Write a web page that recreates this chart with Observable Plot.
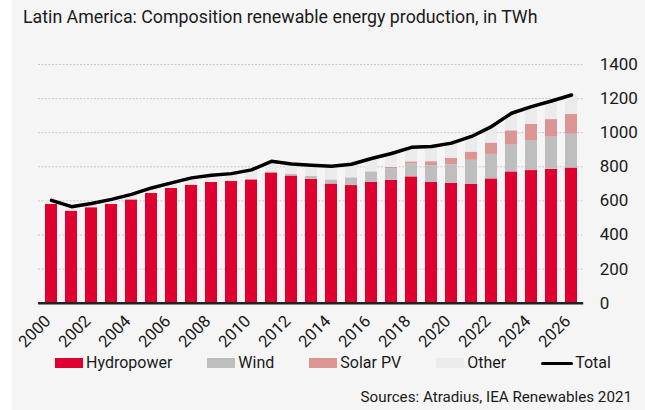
<!DOCTYPE html>
<html>
<head>
<meta charset="utf-8">
<script src="https://cdn.jsdelivr.net/npm/d3@7"></script>
<script src="https://cdn.jsdelivr.net/npm/@observablehq/plot@0.6"></script>
<style>
  html, body { margin: 0; padding: 0; background: #ffffff; }
  #wrap { position: absolute; left: 12px; top: 0; width: 633px; height: 410px; background: #f5f5f5; font-family: Roboto, "Noto Sans", sans-serif; color: #1a1a1a; overflow: hidden; }
  #title { position: absolute; left: 11px; top: 7px; font-size: 17.8px; line-height: 20px; white-space: nowrap; }
  #chart { position: absolute; left: 0; top: 40px; }
  #legend { position: absolute; left: 43px; top: 353px; height: 20px; display: flex; align-items: center; font-size: 16px; line-height: 20px; white-space: nowrap; }
  .item { display: flex; align-items: center; margin-right: 35px; }
  .sw { width: 28px; height: 10px; margin-right: 3px; }
  .ln { width: 32px; height: 3px; background: #000; margin-right: 2px; border-radius: 2px; }
  #source { position: absolute; right: 13px; top: 387px; font-size: 15.2px; line-height: 20px; white-space: nowrap; }
</style>
</head>
<body>
<div id="wrap">
  <div id="title">Latin America: Composition renewable energy production, in TWh</div>
  <div id="chart"></div>
  <div id="legend"></div>
  <div id="source">Sources: Atradius, IEA Renewables 2021</div>
</div>
<script>
const years = [2000,2001,2002,2003,2004,2005,2006,2007,2008,2009,2010,2011,2012,2013,2014,2015,2016,2017,2018,2019,2020,2021,2022,2023,2024,2025,2026];
const hydro = [580,540,560,580,606,644,673,692,708,714,723,764,746,727,699,690,710,720,741,710,704,698,729,770,778,785,793];
const wind  = [0,0,0,0,0,0,1,1,1,2,3,4,10,16,23,43,57,69,75,96,109,140,144,157,173,189,198];
const solar = [0,0,0,0,0,0,0,0,0,0,0,1,1,1,1,2,3,7,13,24,37,48,66,84,97,103,117];
const other = [23,26,25,29,32,32,32,42,41,44,56,63,59,65,80,80,79,82,85,89,89,92,97,103,105,109,113];
const total = [603,566,585,609,638,676,706,735,750,760,782,832,816,809,803,815,849,878,914,919,939,978,1036,1114,1153,1186,1221];
const seriesNames = ["Hydropower","Wind","Solar PV","Other"];
const seriesColors = ["#df0030","#bebebe","#da9594","#ebebeb"];
const yTicks = [0,200,400,600,800,1000,1200,1400];
const xLabelYears = [2000,2002,2004,2006,2008,2010,2012,2014,2016,2018,2020,2022,2024,2026];

const seriesValues = [hydro, wind, solar, other];
const table = [];
seriesNames.forEach((s, k) => years.forEach((yr, i) => table.push({year: yr, series: s, value: seriesValues[k][i]})));
const totals = years.map((yr, i) => ({year: yr, total: total[i]}));

const chart = Plot.plot({
  width: 633,
  height: 315,
  marginTop: 24,
  marginBottom: 52.3,
  marginLeft: 26,
  marginRight: 61.8,
  style: {fontFamily: "Roboto, 'Noto Sans', sans-serif", background: "transparent", color: "#1a1a1a", overflow: "visible"},
  x: {type: "band", domain: years, paddingInner: 0.406, paddingOuter: 0.2, axis: null},
  y: {domain: [0, 1400]},
  color: {domain: seriesNames, range: seriesColors},
  marks: [
    Plot.ruleY(yTicks.filter(d => d > 0), {stroke: "#c8c8c8", strokeWidth: 1, strokeDasharray: "2,1.5"}),
    Plot.barY(table, {x: "year", y: "value", fill: "series", order: seriesNames}),
    Plot.ruleY([0], {stroke: "#222", strokeWidth: 2.5}),
    Plot.line(totals, {x: "year", y: "total", stroke: "#000", strokeWidth: 3.5, curve: "linear"}),
    Plot.axisY({anchor: "right", ticks: yTicks, tickSize: 0, tickPadding: 16, tickFormat: d => String(d), fontSize: 17, label: null}),
    Plot.text(xLabelYears, {x: d => d, text: d => String(d), frameAnchor: "bottom", dy: 19, dx: 0, rotate: -45, textAnchor: "end", lineAnchor: "bottom", fontSize: 16.5, fill: "#1a1a1a"})
  ]
});
document.getElementById("chart").appendChild(chart);

const legend = document.getElementById("legend");
seriesNames.forEach((s, k) => {
  const it = document.createElement("div");
  it.className = "item";
  it.innerHTML = `<div class="sw" style="background:${seriesColors[k]}"></div><span>${s}</span>`;
  legend.appendChild(it);
});
const tot = document.createElement("div");
tot.className = "item";
tot.innerHTML = `<div class="ln"></div><span>Total</span>`;
legend.appendChild(tot);
</script>
</body>
</html>
